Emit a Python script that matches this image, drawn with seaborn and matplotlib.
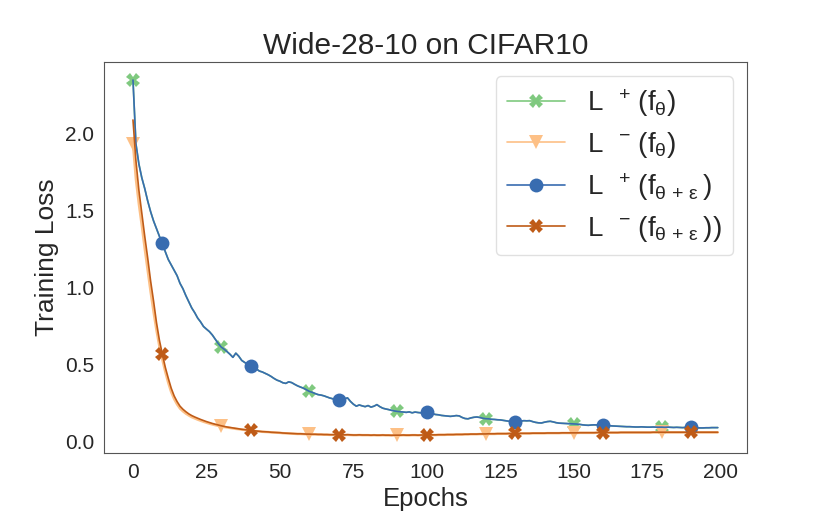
import numpy as np
import pandas as pd
import matplotlib
matplotlib.use("Agg")
import matplotlib.pyplot as plt
import seaborn as sns

# ---------------- data ----------------
epochs = list(range(200))

# L+(f_{theta+eps}) -- blue
loss_plus_pert = [
    2.344, 1.93, 1.80, 1.71, 1.64, 1.56, 1.49, 1.43, 1.38, 1.33,
    1.285, 1.23, 1.18, 1.145, 1.11, 1.075, 1.025, 0.99, 0.945, 0.905,
    0.865, 0.835, 0.80, 0.775, 0.745, 0.728, 0.712, 0.69, 0.662, 0.635,
    0.612, 0.598, 0.582, 0.565, 0.545, 0.572, 0.552, 0.525, 0.512, 0.50,
    0.49, 0.482, 0.47, 0.456, 0.45, 0.441, 0.432, 0.421, 0.408, 0.397,
    0.39, 0.38, 0.376, 0.386, 0.381, 0.37, 0.36, 0.352, 0.345, 0.335,
    0.324, 0.318, 0.31, 0.303, 0.30, 0.295, 0.288, 0.281, 0.276, 0.27,
    0.266, 0.27, 0.276, 0.282, 0.259, 0.241, 0.228, 0.236, 0.23, 0.225,
    0.232, 0.222, 0.228, 0.238, 0.225, 0.215, 0.21, 0.206, 0.201, 0.197,
    0.194, 0.192, 0.19, 0.188, 0.191, 0.185, 0.19, 0.187, 0.185, 0.188,
    0.188, 0.183, 0.178, 0.174, 0.172, 0.168, 0.166, 0.164, 0.162, 0.164,
    0.167, 0.165, 0.155, 0.148, 0.146, 0.152, 0.156, 0.158, 0.155, 0.15,
    0.147, 0.146, 0.143, 0.142, 0.14, 0.139, 0.136, 0.133, 0.13, 0.128,
    0.126, 0.128, 0.131, 0.134, 0.133, 0.134, 0.128, 0.123, 0.12, 0.119,
    0.124, 0.128, 0.13, 0.126, 0.121, 0.118, 0.117, 0.116, 0.115, 0.114,
    0.113, 0.112, 0.11, 0.107, 0.105, 0.104, 0.106, 0.107, 0.106, 0.105,
    0.105, 0.104, 0.102, 0.1, 0.099, 0.098, 0.097, 0.096, 0.095, 0.095,
    0.094, 0.093, 0.093, 0.094, 0.093, 0.092, 0.092, 0.093, 0.092, 0.092,
    0.092, 0.091, 0.092, 0.091, 0.09, 0.091, 0.09, 0.089, 0.09, 0.09,
    0.09, 0.089, 0.088, 0.087, 0.087, 0.088, 0.088, 0.089, 0.089, 0.089,
]

# L+(f_theta) -- green; in the reference it lies exactly under the blue curve
loss_plus_clean = list(loss_plus_pert)

# L-(f_{theta+eps}) -- dark orange
loss_minus_pert = [
    2.085, 1.82, 1.63, 1.48, 1.33, 1.19, 1.04, 0.91, 0.77, 0.655,
    0.565, 0.48, 0.41, 0.345, 0.295, 0.258, 0.228, 0.208, 0.192, 0.178,
    0.167, 0.158, 0.15, 0.142, 0.135, 0.128, 0.122, 0.116, 0.111, 0.106,
    0.101, 0.097, 0.093, 0.09, 0.087, 0.084, 0.081, 0.078, 0.076, 0.073,
    0.071, 0.069, 0.067, 0.065, 0.063, 0.062, 0.061, 0.059, 0.058, 0.057,
    0.056, 0.054, 0.053, 0.052, 0.051, 0.05, 0.049, 0.049, 0.048, 0.047,
    0.047, 0.046, 0.046, 0.045, 0.045, 0.044, 0.044, 0.043, 0.043, 0.043,
    0.043, 0.042, 0.042, 0.043, 0.042, 0.041, 0.041, 0.042, 0.041, 0.041,
    0.041, 0.04, 0.041, 0.04, 0.04, 0.041, 0.04, 0.04, 0.039, 0.04,
    0.04, 0.04, 0.041, 0.04, 0.04, 0.041, 0.041, 0.04, 0.041, 0.041,
    0.041, 0.042, 0.042, 0.042, 0.043, 0.043, 0.043, 0.044, 0.044, 0.044,
    0.045, 0.045, 0.045, 0.046, 0.046, 0.047, 0.047, 0.047, 0.048, 0.048,
    0.048, 0.049, 0.049, 0.049, 0.05, 0.05, 0.05, 0.05, 0.051, 0.051,
    0.051, 0.051, 0.052, 0.052, 0.052, 0.052, 0.053, 0.053, 0.053, 0.053,
    0.053, 0.054, 0.054, 0.054, 0.054, 0.054, 0.055, 0.055, 0.055, 0.055,
    0.055, 0.055, 0.056, 0.056, 0.056, 0.056, 0.056, 0.056, 0.057, 0.057,
    0.057, 0.057, 0.057, 0.057, 0.057, 0.057, 0.058, 0.058, 0.058, 0.058,
    0.058, 0.058, 0.058, 0.058, 0.058, 0.058, 0.058, 0.059, 0.059, 0.059,
    0.059, 0.059, 0.059, 0.059, 0.059, 0.059, 0.059, 0.059, 0.059, 0.059,
    0.059, 0.059, 0.059, 0.059, 0.059, 0.059, 0.059, 0.059, 0.059, 0.059,
]

# L-(f_theta) -- light orange (peeks out just below the dark-orange curve)
loss_minus_clean = [
    1.93, 1.70, 1.54, 1.40, 1.25, 1.11, 0.97, 0.84, 0.72, 0.615,
    0.53, 0.45, 0.38, 0.32, 0.275, 0.24, 0.213, 0.195, 0.18, 0.168,
    0.157, 0.149, 0.141, 0.134, 0.127, 0.121, 0.115, 0.11, 0.105, 0.101,
    0.097, 0.093, 0.09, 0.087, 0.084, 0.081, 0.079, 0.076, 0.074, 0.071,
    0.07, 0.068, 0.066, 0.064, 0.062, 0.061, 0.06, 0.058, 0.057, 0.056,
    0.055, 0.053, 0.052, 0.051, 0.05, 0.049, 0.048, 0.048, 0.047, 0.046,
    0.046, 0.045, 0.045, 0.044, 0.044, 0.043, 0.043, 0.042, 0.042, 0.042,
    0.042, 0.041, 0.041, 0.042, 0.041, 0.04, 0.04, 0.041, 0.04, 0.04,
    0.04, 0.039, 0.04, 0.039, 0.039, 0.04, 0.039, 0.039, 0.039, 0.039,
    0.039, 0.039, 0.04, 0.039, 0.039, 0.04, 0.04, 0.039, 0.04, 0.04,
    0.04, 0.041, 0.041, 0.041, 0.042, 0.042, 0.042, 0.043, 0.043, 0.043,
    0.044, 0.044, 0.044, 0.045, 0.045, 0.046, 0.046, 0.046, 0.047, 0.047,
    0.047, 0.048, 0.048, 0.048, 0.049, 0.049, 0.049, 0.049, 0.05, 0.05,
    0.05, 0.05, 0.051, 0.051, 0.051, 0.051, 0.052, 0.052, 0.052, 0.052,
    0.052, 0.053, 0.053, 0.053, 0.053, 0.053, 0.054, 0.054, 0.054, 0.054,
    0.054, 0.054, 0.055, 0.055, 0.055, 0.055, 0.055, 0.055, 0.056, 0.056,
    0.056, 0.056, 0.056, 0.056, 0.056, 0.056, 0.057, 0.057, 0.057, 0.057,
    0.057, 0.057, 0.057, 0.057, 0.057, 0.057, 0.057, 0.058, 0.058, 0.058,
    0.058, 0.058, 0.058, 0.058, 0.058, 0.058, 0.058, 0.058, 0.058, 0.058,
    0.058, 0.058, 0.058, 0.058, 0.058, 0.058, 0.058, 0.058, 0.058, 0.058,
]

labels = [
    r"L  ${}^{+}\ (f_{\theta})$",
    r"L  ${}^{-}\ (f_{\theta})$",
    r"L  ${}^{+}\ (f_{\theta\,+\,\varepsilon\;})$",
    r"L  ${}^{-}\ (f_{\theta\,+\,\varepsilon\;}))$",
]
title = "Wide-28-10 on CIFAR10"
xlabel = "Epochs"
ylabel = "Training Loss"
xticks = [0, 25, 50, 75, 100, 125, 150, 175, 200]
yticks = [0.0, 0.5, 1.0, 1.5, 2.0]

# ---------------- style ----------------
sns.set_style("white")
plt.rcParams["font.family"] = ["Liberation Sans", "DejaVu Sans"]
plt.rcParams["mathtext.fontset"] = "custom"
plt.rcParams["mathtext.rm"] = "Liberation Sans"
plt.rcParams["mathtext.it"] = "Liberation Sans"
plt.rcParams["mathtext.bf"] = "Liberation Sans:bold"

accent = sns.color_palette("Accent", 8)
colors = [accent[0], accent[2], accent[4], accent[6]]
widths = [1.2, 1.8, 1.2, 1.2]

fig = plt.figure(figsize=(8.3, 5.19), dpi=100)
ax = fig.add_axes([0.125, 0.127, 0.775, 0.753])

series = [
    (loss_plus_clean, "X", (0, 30)),
    (loss_minus_clean, "v", (0, 30)),
    (loss_plus_pert, "o", (10, 30)),
    (loss_minus_pert, "X", (10, 30)),
]
for (vals, mk, me), lab, col, lw in zip(series, labels, colors, widths):
    df = pd.DataFrame({"epoch": epochs, "loss": vals})
    sns.lineplot(data=df, x="epoch", y="loss", ax=ax, color=col, label=lab,
                 marker=mk, markevery=me, markersize=10, linewidth=lw,
                 markeredgewidth=0, markeredgecolor=col)

ax.set_xticks(xticks)
ax.set_yticks(yticks)
ax.tick_params(labelsize=15, colors=".15")
ax.set_title(title, fontsize=21.5)
ax.set_xlabel(xlabel, fontsize=18.5)
ax.set_ylabel(ylabel, fontsize=19)
for s in ax.spines.values():
    s.set_color("#555555")

leg = ax.legend(loc="upper right", fontsize=20, handlelength=2.1,
                handletextpad=0.8, labelspacing=0.4, frameon=True)
leg.get_frame().set_edgecolor("#d9d9d9")
for line in leg.get_lines():
    line.set_linewidth(1.2)

fig.savefig("out.png", dpi=100)
